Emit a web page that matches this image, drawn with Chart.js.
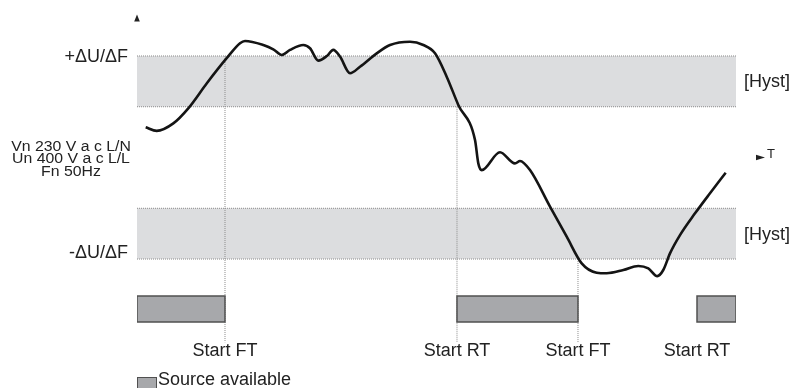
<!DOCTYPE html>
<html>
<head>
<meta charset="utf-8">
<script src="https://cdn.jsdelivr.net/npm/chart.js@4"></script>
<style>
  html, body { margin: 0; padding: 0; background: #fff; }
  #wrap { width: 792px; height: 388px; position: relative; }
</style>
</head>
<body>
<div id="wrap"><canvas id="myChart"></canvas></div>
<script>
// time runs 0..100 across the bands, level 100 = +dU/dF, 0 = -dU/dF
const curveTime = [1.45, 3.29, 6.06, 8.56, 11.69, 14.97, 17.2, 18.03, 21.09, 22.75,
  24.16, 25.54, 27.76, 28.88, 30.27, 31.7, 32.77, 33.89, 35.56, 37.23,
  40.02, 42.24, 45.58, 47.8, 49.75, 51.7, 53.64, 56.43, 56.98, 57.55,
  60.6, 63.1, 63.94, 65.61, 68.95, 71.74, 74.24, 76.74, 78.41, 81.19,
  83.69, 85.36, 86.86, 87.86, 88.98, 90.65, 93.16, 95.66, 98.28];
const curveLevel = [64.9, 63.1, 66.8, 74.2, 86.7, 98.9, 106.3, 107.4, 105.4, 103.3,
  100.5, 103.0, 105.4, 103.8, 97.7, 100, 103.0, 99.7, 91.5, 94.7,
  101.3, 105.4, 107.0, 105.4, 101.3, 89.8, 75.9, 58.6, 47.1, 43.8,
  52.6, 47.1, 48.3, 43.8, 25.8, 11.0, -2.1, -6.7, -7.0, -5.4,
  -3.4, -4.6, -8.4, -5.4, 2.8, 11.8, 22.5, 32.4, 42.5];

// hysteresis bands
const bandTop = [100, 25];
const bandBottom = [75, 0];
const bandLabels = ['[Hyst]', '[Hyst]'];
const thresholdLabels = ['+ΔU/ΔF', '-ΔU/ΔF'];

// start events and the dotted guides above them
const eventTime = [14.69, 53.42, 73.62, 93.49];
const eventLabel = ['Start FT', 'Start RT', 'Start FT', 'Start RT'];
const guideFrom = [100, 75, 0, null];

// "Source available" periods
const sourceStart = [0, 53.42, 93.49];
const sourceEnd = [14.69, 73.62, 100];
const sourceHigh = -18.2;
const sourceLow = -31;

const infoLines = ['Vn 230 V a c L/N', 'Un 400 V a c L/L', 'Fn 50Hz'];

const FONT = '"Liberation Sans", Arial, sans-serif';
const bandFill = '#dcdddf';
const dotted = '#8c8c8c';
const barFill = '#a7a8ab';
const barEdge = '#505050';

const datasets = [];

datasets.push({
  label: 'signal',
  data: curveTime.map((t, i) => ({ x: t, y: curveLevel[i] })),
  borderColor: '#141414',
  borderWidth: 2.6,
  cubicInterpolationMode: 'monotone',
  fill: false,
  order: 0
});

for (let i = 0; i < sourceStart.length; i++) {
  const s = sourceStart[i], e = sourceEnd[i];
  datasets.push({
    label: 'Source available',
    data: [
      { x: s, y: sourceHigh }, { x: e, y: sourceHigh }, { x: e, y: sourceLow },
      { x: s, y: sourceLow }, { x: s, y: sourceHigh }, { x: e, y: sourceHigh }
    ],
    backgroundColor: barFill,
    borderColor: barEdge,
    borderWidth: 1.5,
    borderJoinStyle: 'miter',
    fill: 'shape',
    order: 5
  });
}

for (let i = 0; i < eventTime.length; i++) {
  if (guideFrom[i] === null) continue;
  datasets.push({
    label: 'guide',
    data: [{ x: eventTime[i], y: guideFrom[i] }, { x: eventTime[i], y: -41 }],
    borderColor: dotted,
    borderWidth: 1,
    borderDash: [1, 1],
    fill: false,
    order: 8
  });
}

for (let i = 0; i < bandTop.length; i++) {
  datasets.push({
    label: 'band top',
    data: [{ x: 0, y: bandTop[i] }, { x: 100, y: bandTop[i] }],
    borderColor: dotted,
    borderWidth: 1,
    borderDash: [1, 1],
    fill: false,
    order: 10
  });
  datasets.push({
    label: 'band bottom',
    data: [{ x: 0, y: bandBottom[i] }, { x: 100, y: bandBottom[i] }],
    borderColor: dotted,
    backgroundColor: bandFill,
    borderWidth: 1,
    borderDash: [1, 1],
    fill: '-1',
    order: 10
  });
}

const textPlugin = {
  id: 'diagramText',
  afterDraw(chart) {
    const ctx = chart.ctx;
    const X = v => chart.scales.x.getPixelForValue(v);
    const Y = v => chart.scales.y.getPixelForValue(v);
    ctx.save();
    ctx.fillStyle = '#222';
    ctx.textBaseline = 'alphabetic';

    ctx.font = '18px ' + FONT;
    ctx.textAlign = 'right';
    ctx.fillText(thresholdLabels[0], X(0) - 9, Y(bandTop[0]) + 6);
    ctx.fillText(thresholdLabels[1], X(0) - 9, Y(bandBottom[1]) - 1);

    ctx.textAlign = 'left';
    for (let i = 0; i < bandTop.length; i++) {
      ctx.fillText(bandLabels[i], X(100) + 8, Y((bandTop[i] + bandBottom[i]) / 2) + 6);
    }

    ctx.textAlign = 'center';
    for (let i = 0; i < eventTime.length; i++) {
      ctx.fillText(eventLabel[i], X(eventTime[i]), Y(-41) + 14);
    }

    // legend
    ctx.fillStyle = barFill;
    ctx.strokeStyle = barEdge;
    ctx.lineWidth = 1;
    ctx.fillRect(X(0), 377, 20, 12);
    ctx.strokeRect(X(0) + 0.5, 377.5, 19, 12);
    ctx.fillStyle = '#222';
    ctx.textAlign = 'left';
    ctx.fillText('Source available', X(0) + 21, 385);

    // info block (slightly wide lettering, as in the original)
    ctx.font = '14px ' + FONT;
    ctx.textAlign = 'center';
    infoLines.forEach((t, i) => {
      ctx.save();
      ctx.translate(71, Y(50) - 6.8 + i * 12.5);
      ctx.scale(1.13, 1);
      ctx.fillText(t, 0, 0);
      ctx.restore();
    });

    // axis arrows
    ctx.beginPath();
    ctx.moveTo(X(0), 14.5);
    ctx.lineTo(X(0) + 2.8, 21.5);
    ctx.lineTo(X(0) - 2.8, 21.5);
    ctx.closePath();
    ctx.fill();

    const ty = Y(50);
    ctx.beginPath();
    ctx.moveTo(765, ty);
    ctx.lineTo(756, ty - 2.7);
    ctx.lineTo(756, ty + 2.7);
    ctx.closePath();
    ctx.fill();
    ctx.font = '13px ' + FONT;
    ctx.textAlign = 'left';
    ctx.fillText('T', 767, ty + 0.5);
    ctx.restore();
  }
};

new Chart(document.getElementById('myChart'), {
  type: 'line',
  data: { datasets: datasets },
  options: {
    responsive: true,
    maintainAspectRatio: false,
    animation: false,
    events: [],
    layout: { padding: { left: 137, right: 56, top: 18, bottom: 0 } },
    elements: { point: { radius: 0 }, line: { tension: 0 } },
    scales: {
      x: { type: 'linear', min: 0, max: 100, display: false },
      y: { type: 'linear', min: -63.5, max: 118.7, display: false }
    },
    plugins: { legend: { display: false }, tooltip: { enabled: false } }
  },
  plugins: [textPlugin]
});
</script>
</body>
</html>
